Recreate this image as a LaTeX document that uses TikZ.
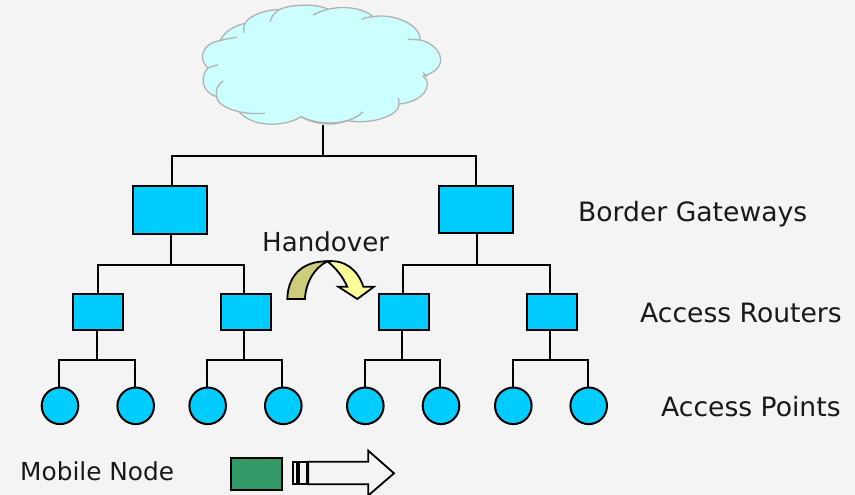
\documentclass[tikz,border=0pt]{standalone}
\usepackage{fontspec}
\setmainfont{DejaVu Sans}
\definecolor{bgc}{HTML}{F4F4F4}
\definecolor{boxc}{HTML}{00CCFF}
\definecolor{cloudc}{HTML}{CCFFFF}
\definecolor{cloudl}{HTML}{B2B2B2}
\definecolor{mobc}{HTML}{339966}
\definecolor{darkb}{HTML}{CCCC7A}
\definecolor{lightb}{HTML}{FFFF99}
\tikzset{
 x=1pt,y=-1pt,
 lab/.style={font=\fontsize{26.6}{30}\selectfont,text=black!90,inner sep=0pt,anchor=west},
 gw/.style={draw=black,line width=2pt,fill=boxc,minimum width=74.6pt,minimum height=47.6pt,inner sep=0pt},
 ar/.style={draw=black,line width=2pt,fill=boxc,minimum width=50pt,minimum height=36pt,inner sep=0pt},
 ap/.style={draw=black,line width=2pt,fill=boxc,circle,minimum size=36.6pt,inner sep=0pt},
 link/.style={draw=black,line width=1.9pt},
 outl/.style={draw=black,line width=1.8pt,line join=round},
 cl/.style={draw=cloudl,line width=1.3pt,line join=round},
}
\begin{document}
\begin{tikzpicture}
\useasboundingbox[fill=bgc] (0,0) rectangle (855,495);
% cloud
\path[fill=cloudc,cl]
 (220,40.7) .. controls (225,31) and (235,25.5) .. (245,23.3)
 .. controls (250,15) and (265,10) .. (280,9.3)
 .. controls (292,4) and (318,3.5) .. (328,9.3)
 .. controls (345,5) and (365,9) .. (373,16.7)
 .. controls (392,13) and (421,24) .. (420,40)
 .. controls (430,42) and (440.7,50) .. (440.7,60)
 .. controls (440.7,68) and (432,74) .. (423,76)
 .. controls (434,84) and (424,102) .. (399,104)
 .. controls (400,115) and (373,125) .. (347,120.7)
 .. controls (335,126) and (315,125) .. (301,116.7)
 .. controls (285,127) and (253,128) .. (239,111.7)
 .. controls (228,109) and (217,104) .. (216.7,96.7)
 .. controls (201,92) and (200,76) .. (208,68)
 .. controls (197,58) and (203,43) .. (220,40.7) -- cycle;
\draw[cl] (208,68) .. controls (211,66.5) and (215,65.5) .. (218,65);
\draw[cl] (220,40.7) .. controls (225,39) and (231,38) .. (236.7,37.3);
\draw[cl] (245,23.3) .. controls (243.5,26) and (243.5,30) .. (244,33);
\draw[cl] (280,9.3) .. controls (275,12) and (271,17) .. (270,21.7);
\draw[cl] (328,9.3) .. controls (323,10.5) and (318,12.5) .. (313,15);
\draw[cl] (373,16.7) .. controls (369,17) and (365,18) .. (361.7,19.3);
\draw[cl] (420,40) .. controls (416,39.5) and (412,39.5) .. (408,39.3);
\draw[cl] (423,72.7) .. controls (425,74) and (426,75) .. (427,77);
\draw[cl] (399,104) .. controls (399.3,102) and (399,100) .. (398,98);
\draw[cl] (363,111.7) .. controls (352,124) and (322,127) .. (301,116.7);
\draw[cl] (239,111.7) .. controls (247,113.5) and (257,114) .. (265,113.3);
\draw[cl] (216.7,96.7) .. controls (215,90) and (218,84) .. (223.3,81);
\coordinate (cloudb) at (323.3,125);
\coordinate (topbus) at (323.3,156);
\coordinate (busa) at (170.7,265.3);
\coordinate (busb) at (476.7,265.3);
% boxes
\node[gw] (g1) at (170,209.7) {};
\node[gw] (g2) at (475.8,209.3) {};
\node[ar] (r1) at (98.2,312) {};
\node[ar] (r2) at (246,312) {};
\node[ar] (r3) at (404,312) {};
\node[ar] (r4) at (551.7,312) {};
\foreach \n/\x in {a1/60,a2/135.7,a3/207.7,a4/283.3,a5/365.3,a6/441,a7/513.3,a8/588.7}
  \node[ap] (\n) at (\x,405.8) {};
\coordinate (c1) at (96.7,360.3);
\coordinate (c2) at (244.3,360.3);
\coordinate (c3) at (402.3,360.3);
\coordinate (c4) at (550,360.3);
% connectors
\draw[link] (cloudb) -- (topbus);
\draw[link] ([xshift=2pt]g1.north) |- (topbus) -| (g2.north);
\draw[link] ([xshift=.7pt]g1.south) -- (busa);
\draw[link] ([xshift=-.5pt]r1.north) |- (busa) -| ([xshift=-1.7pt]r2.north);
\draw[link] ([xshift=.9pt]g2.south) -- (busb);
\draw[link] ([xshift=-.7pt]r3.north) |- (busb) -| ([xshift=-1.7pt]r4.north);
\draw[link] ([xshift=-1.5pt]r1.south) -- (c1);
\draw[link] ([xshift=-.7pt]a1.north) |- (c1) -| ([xshift=-1pt]a2.north);
\draw[link] ([xshift=-1.7pt]r2.south) -- (c2);
\draw[link] ([xshift=-1pt]a3.north) |- (c2) -| ([xshift=-1pt]a4.north);
\draw[link] ([xshift=-1.7pt]r3.south) -- (c3);
\draw[link] ([xshift=-.3pt]a5.north) |- (c3) -| ([xshift=-.7pt]a6.north);
\draw[link] ([xshift=-1.7pt]r4.south) -- (c4);
\draw[link] ([xshift=-.6pt]a7.north) |- (c4) -| ([xshift=-.4pt]a8.north);
% handover arrow
\draw[outl,miter limit=10,line join=miter,fill=lightb] (327.3,261.3) .. controls (345,259.5) and (358,270) .. (363.3,286.7) -- (374,286.7) -- (357.3,299) -- (338.3,286.7) -- (347.3,286.7) .. controls (343,277) and (336,268) .. (327.3,261.3) -- cycle;
\draw[outl,line join=miter,fill=darkb] (287.3,299) .. controls (288,273) and (305,261) .. (327.3,261.3) .. controls (314,268) and (305.5,283) .. (305,299) -- cycle;
% mobile
\node[draw=black,line width=2pt,fill=mobc,minimum width=51pt,minimum height=32.4pt,inner sep=0pt] (mob) at (256.2,473.8) {};
\node[draw=black,line width=1.8pt,minimum width=4.6pt,minimum height=22.6pt,inner sep=0pt] (s1) at (295,473) {};
\node[draw=black,line width=1.8pt,minimum width=7.6pt,minimum height=22.6pt,inner sep=0pt] (s2) at (302.8,473) {};
\draw[outl,line join=miter,fill=bgc] (308.3,461.7) -- (368.3,461.7) -- (368.3,450.7) -- (394,473.3) -- (368.3,495.5) -- (368.3,484.3) -- (308.3,484.3) -- cycle;
% labels
\node[lab] (t1) at (578,214) {Border Gateways};
\node[lab,font=\fontsize{26.1}{30}\selectfont] (t2) at (262,241.5) {Handover};
\node[lab] (t3) at (640,312.5) {Access Routers};
\node[lab] (t4) at (661,406.5) {Access Points};
\node[lab,font=\fontsize{24.8}{30}\selectfont] (t5) at (20,471.5) {Mobile Node};
\end{tikzpicture}
\end{document}
